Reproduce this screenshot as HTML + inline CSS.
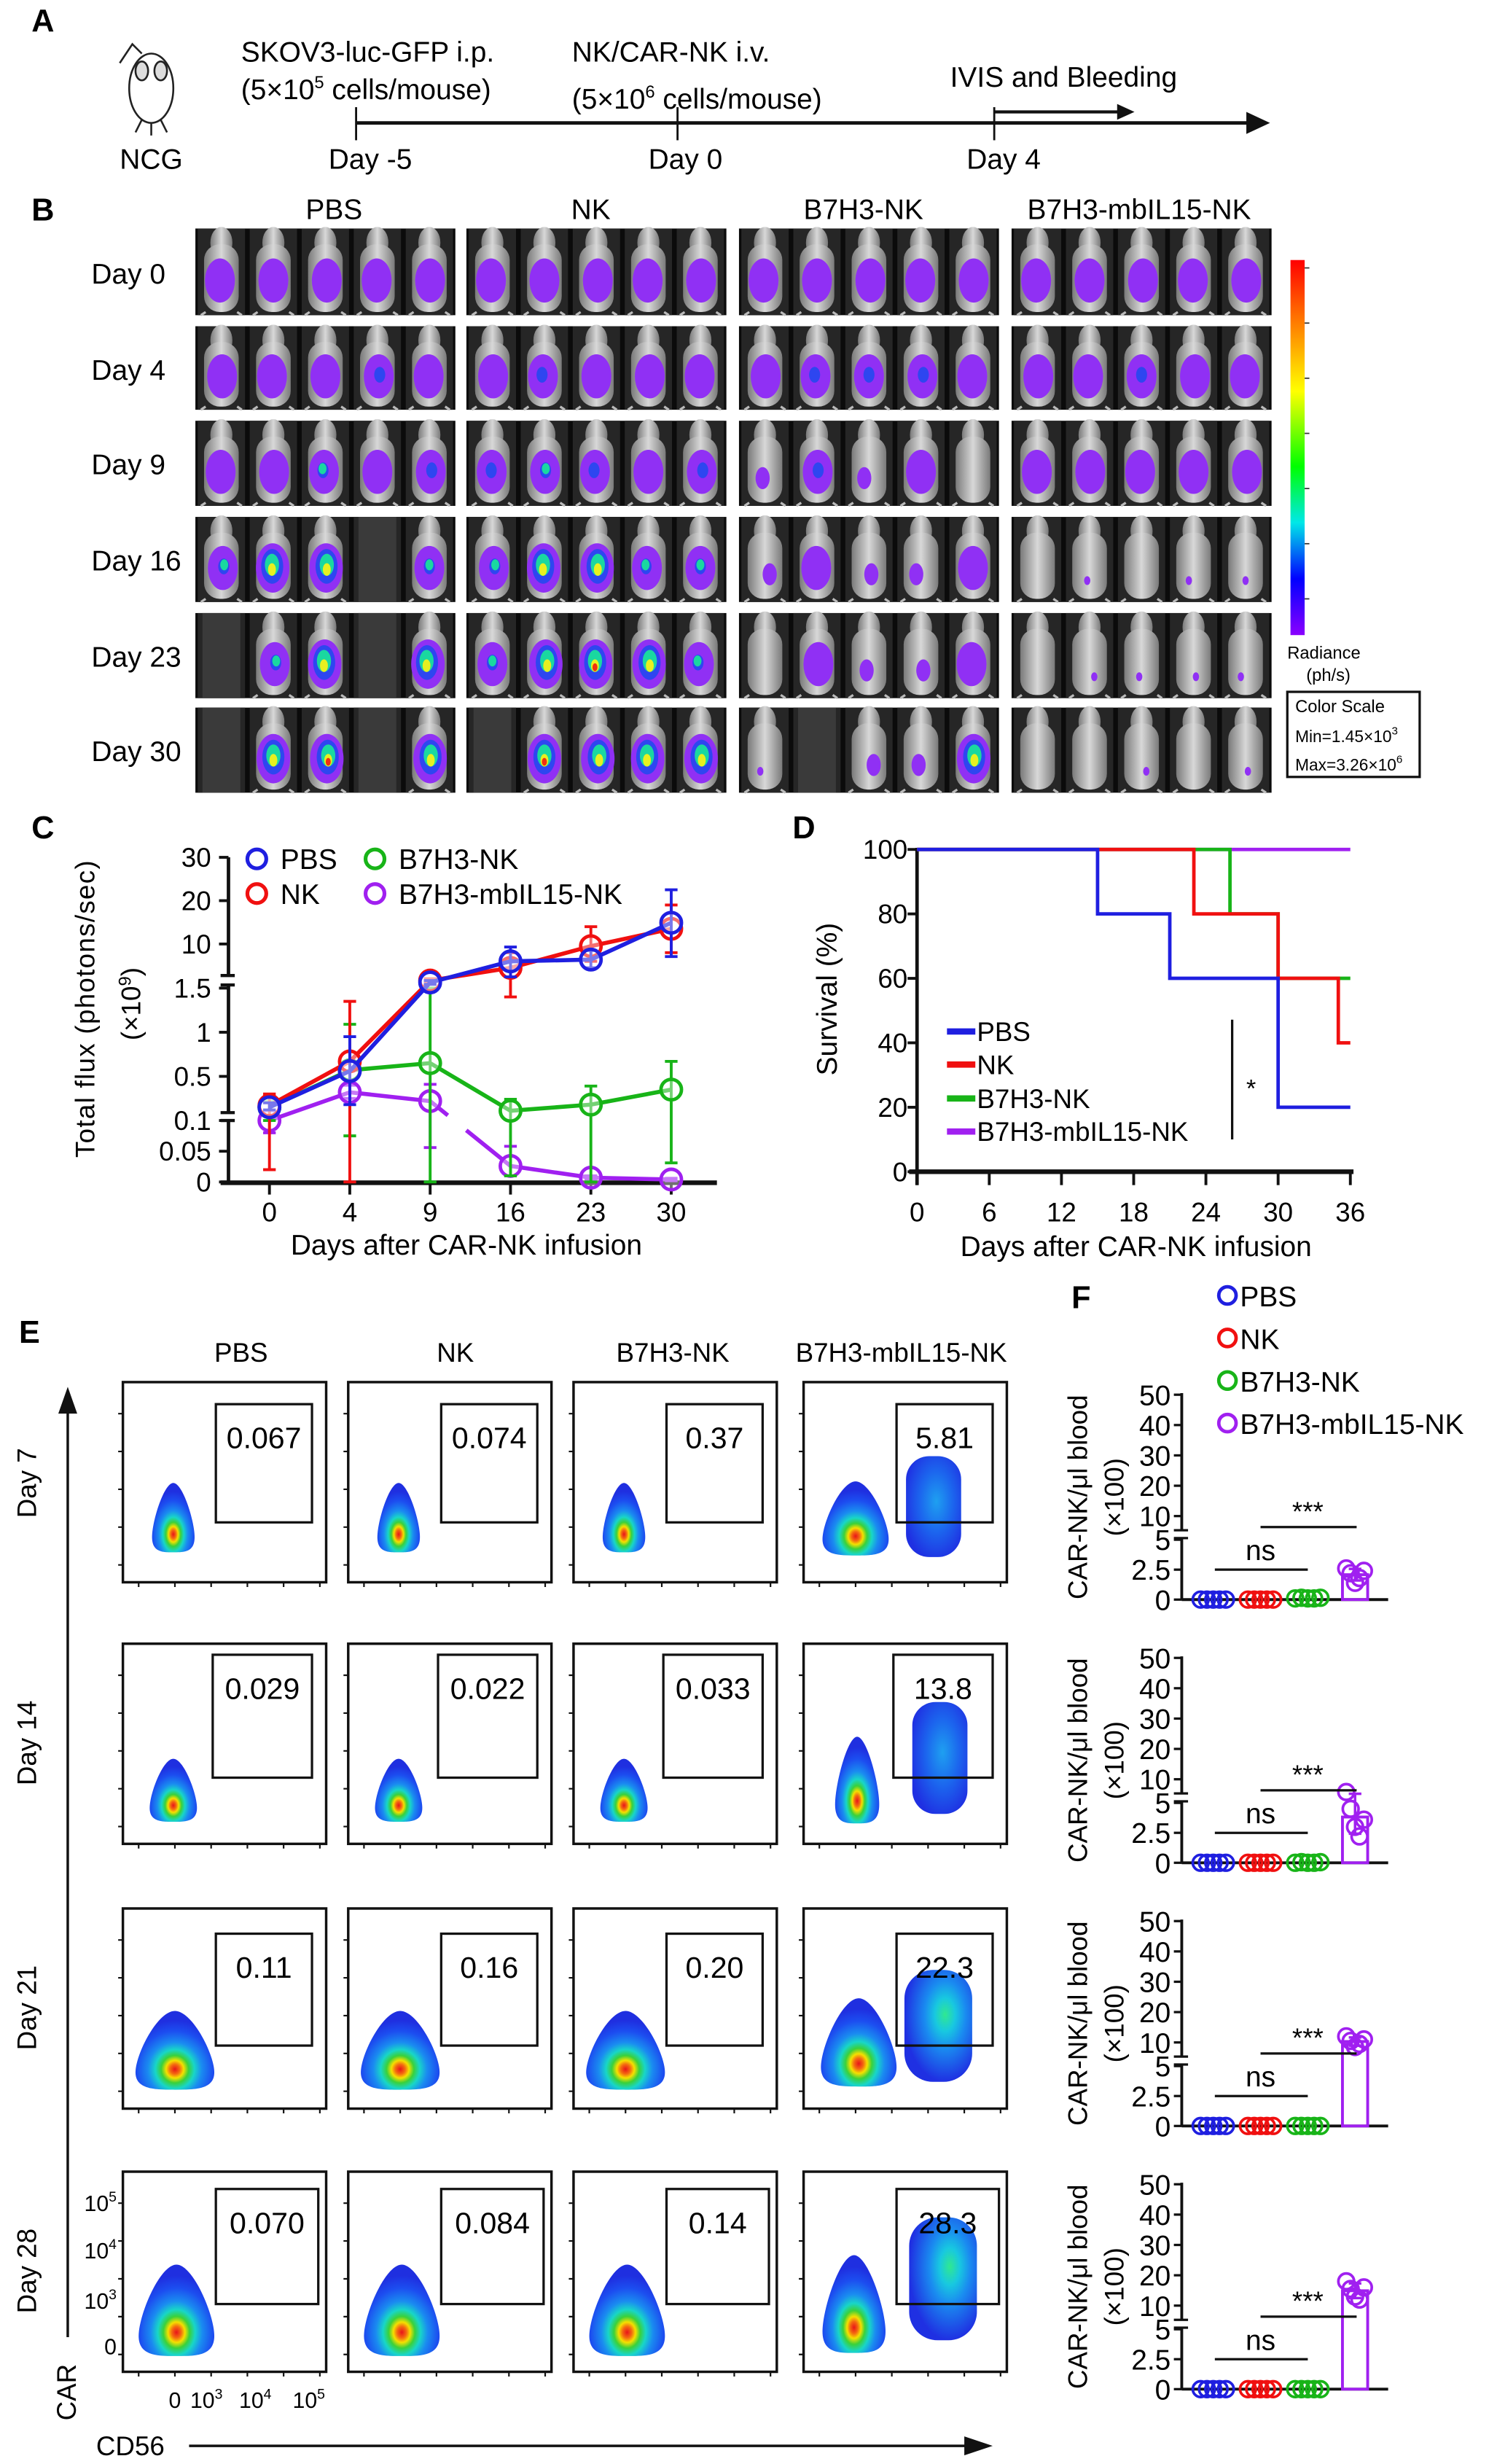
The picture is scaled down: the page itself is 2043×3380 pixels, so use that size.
<!DOCTYPE html>
<html><head><meta charset="utf-8">
<style>
html,body{margin:0;padding:0;background:#fff;}
svg{display:block;font-family:"Liberation Sans",Arial,sans-serif;}
</style></head>
<body>
<svg id="fig" xmlns="http://www.w3.org/2000/svg" width="2043" height="3380" viewBox="0 0 945 1563.5" preserveAspectRatio="none">
<defs>
<linearGradient id="cbar" x1="0" y1="0" x2="0" y2="1">
<stop offset="0" stop-color="#ff0000"/><stop offset="0.15" stop-color="#ff7000"/><stop offset="0.35" stop-color="#ffff00"/><stop offset="0.55" stop-color="#00ff00"/><stop offset="0.7" stop-color="#00e8e8"/><stop offset="0.85" stop-color="#0000ff"/><stop offset="1" stop-color="#8a00ff"/>
</linearGradient>
<radialGradient id="jet" cx="0.5" cy="0.74" r="0.62">
<stop offset="0" stop-color="#e8141a"/><stop offset="0.1" stop-color="#f46a10"/><stop offset="0.18" stop-color="#f5e000"/><stop offset="0.28" stop-color="#3ad13a"/><stop offset="0.4" stop-color="#18d6c8"/><stop offset="0.55" stop-color="#1a8cf0"/><stop offset="0.78" stop-color="#1c4ef0"/><stop offset="1" stop-color="#1f2fe0"/>
</radialGradient>
<radialGradient id="blueA" cx="0.55" cy="0.45" r="0.6">
<stop offset="0" stop-color="#1ea0f0"/><stop offset="0.5" stop-color="#1c66ee"/><stop offset="1" stop-color="#1f30e2"/>
</radialGradient>
<radialGradient id="blueB" cx="0.6" cy="0.4" r="0.6">
<stop offset="0" stop-color="#30e890"/><stop offset="0.25" stop-color="#18c8e0"/><stop offset="0.5" stop-color="#1a8cf0"/><stop offset="1" stop-color="#1f30e2"/>
</radialGradient>
<linearGradient id="mouseG" x1="0" y1="0" x2="1" y2="0">
<stop offset="0" stop-color="#7a7a7a"/><stop offset="0.5" stop-color="#d8d8d8"/><stop offset="1" stop-color="#7a7a7a"/>
</linearGradient>
</defs>

<!-- Panel A -->
<g>
<text x="20" y="20" font-size="20" font-weight="bold">A</text>
<g fill="none" stroke="#222" stroke-width="1.2">
<path d="M76 40 l8 -12 l6 6"/>
<ellipse cx="96" cy="56" rx="14" ry="22" fill="#fff"/>
<ellipse cx="90" cy="45" rx="4" ry="6" fill="#ddd"/><ellipse cx="102" cy="45" rx="4" ry="6" fill="#ddd"/>
<path d="M90 76 l-4 8 M102 76 l4 8 M96 78 v8"/>
</g>
<text x="96" y="107" font-size="18" text-anchor="middle">NCG</text>
<text x="153" y="39" font-size="18">SKOV3-luc-GFP i.p.</text>
<text x="153" y="63" font-size="18">(5×10<tspan font-size="11" dy="-7">5</tspan><tspan dy="7"> cells/mouse)</tspan></text>
<text x="363" y="39" font-size="18">NK/CAR-NK i.v.</text>
<text x="363" y="69" font-size="18">(5×10<tspan font-size="11" dy="-7">6</tspan><tspan dy="7"> cells/mouse)</tspan></text>
<text x="603" y="55" font-size="18">IVIS and Bleeding</text>
<line x1="226" y1="78" x2="795" y2="78" stroke="#111" stroke-width="2.2"/>
<path d="M791 71 L806 78 L791 85 Z" fill="#111"/>
<line x1="226" y1="68" x2="226" y2="89" stroke="#111" stroke-width="1.3"/>
<line x1="430" y1="68" x2="430" y2="89" stroke="#111" stroke-width="1.3"/>
<line x1="631" y1="68" x2="631" y2="89" stroke="#111" stroke-width="1.3"/>
<line x1="631" y1="71" x2="712" y2="71" stroke="#111" stroke-width="2"/>
<path d="M709 66 L720 71 L709 76 Z" fill="#111"/>
<text x="235" y="107" font-size="18" text-anchor="middle">Day -5</text>
<text x="435" y="107" font-size="18" text-anchor="middle">Day 0</text>
<text x="637" y="107" font-size="18" text-anchor="middle">Day 4</text>
</g>

<!-- Panel B static -->
<g font-size="18">
<text x="20" y="140" font-size="20" font-weight="bold">B</text>
<text x="212" y="139" text-anchor="middle">PBS</text>
<text x="375" y="139" text-anchor="middle">NK</text>
<text x="548" y="139" text-anchor="middle">B7H3-NK</text>
<text x="723" y="139" text-anchor="middle">B7H3-mbIL15-NK</text>
<text x="58" y="180">Day 0</text>
<text x="58" y="241">Day 4</text>
<text x="58" y="301">Day 9</text>
<text x="58" y="362">Day 16</text>
<text x="58" y="423">Day 23</text>
<text x="58" y="483">Day 30</text>
<rect x="819" y="165" width="9" height="238" fill="url(#cbar)"/>
<g stroke="#333" stroke-width="0.8">
<line x1="828" y1="170" x2="831" y2="170"/><line x1="828" y1="205" x2="831" y2="205"/><line x1="828" y1="240" x2="831" y2="240"/><line x1="828" y1="275" x2="831" y2="275"/><line x1="828" y1="310" x2="831" y2="310"/><line x1="828" y1="345" x2="831" y2="345"/><line x1="828" y1="380" x2="831" y2="380"/>
</g>
<text x="817" y="418" font-size="11">Radiance</text>
<text x="829" y="432" font-size="11">(ph/s)</text>
<rect x="817" y="439" width="84" height="54" fill="none" stroke="#111" stroke-width="1.5"/>
<text x="822" y="452" font-size="11">Color Scale</text>
<text x="822" y="471" font-size="10.5">Min=1.45×10<tspan font-size="7" dy="-5">3</tspan></text>
<text x="822" y="489" font-size="10.5">Max=3.26×10<tspan font-size="7" dy="-5">6</tspan></text>
<g id="bImages"></g>
</g>

<!-- Panel C static -->
<g>
<text x="20" y="532" font-size="20" font-weight="bold">C</text>
<text transform="translate(60 640) rotate(-90)" font-size="17" text-anchor="middle" letter-spacing="0.6">Total flux (photons/sec)</text>
<text transform="translate(89 637) rotate(-90)" font-size="17" text-anchor="middle">(×10<tspan font-size="11" dy="-6">9</tspan><tspan dy="6">)</tspan></text>
<text x="296" y="796" font-size="18" text-anchor="middle">Days after CAR-NK infusion</text>
<g id="cChart"></g>
</g>

<!-- Panel D static -->
<g>
<text x="503" y="532" font-size="20" font-weight="bold">D</text>
<text transform="translate(531 634) rotate(-90)" font-size="18" text-anchor="middle">Survival (%)</text>
<text x="721" y="797" font-size="18" text-anchor="middle">Days after CAR-NK infusion</text>
<g id="dChart"></g>
</g>

<!-- Panel E static -->
<g>
<text x="12" y="852" font-size="20" font-weight="bold">E</text>
<text x="153" y="864" font-size="17" text-anchor="middle">PBS</text>
<text x="289" y="864" font-size="17" text-anchor="middle">NK</text>
<text x="427" y="864" font-size="17" text-anchor="middle">B7H3-NK</text>
<text x="572" y="864" font-size="17" text-anchor="middle">B7H3-mbIL15-NK</text>
<text transform="translate(23 941) rotate(-90)" font-size="17" text-anchor="middle">Day 7</text>
<text transform="translate(23 1106) rotate(-90)" font-size="17" text-anchor="middle">Day 14</text>
<text transform="translate(23 1274) rotate(-90)" font-size="17" text-anchor="middle">Day 21</text>
<text transform="translate(23 1441) rotate(-90)" font-size="17" text-anchor="middle">Day  28</text>
<line x1="43" y1="1483" x2="43" y2="895" stroke="#111" stroke-width="1.6"/>
<path d="M37 897 L43 880 L49 897 Z" fill="#111"/>
<text transform="translate(48 1518) rotate(-90)" font-size="17" text-anchor="middle">CAR</text>
<text x="61" y="1558" font-size="17">CD56</text>
<line x1="120" y1="1552" x2="615" y2="1552" stroke="#111" stroke-width="1.6"/>
<path d="M612 1546 L630 1552 L612 1558 Z" fill="#111"/>
<g font-size="14" text-anchor="end">
<text x="74" y="1403">10<tspan font-size="9" dy="-6">5</tspan></text>
<text x="74" y="1433">10<tspan font-size="9" dy="-6">4</tspan></text>
<text x="74" y="1465">10<tspan font-size="9" dy="-6">3</tspan></text>
<text x="74" y="1494">0</text>
</g>
<g font-size="14" text-anchor="middle">
<text x="111" y="1528">0</text>
<text x="131" y="1528">10<tspan font-size="9" dy="-6">3</tspan></text>
<text x="162" y="1528">10<tspan font-size="9" dy="-6">4</tspan></text>
<text x="196" y="1528">10<tspan font-size="9" dy="-6">5</tspan></text>
</g>
<g id="eFlow"></g>
</g>

<!-- Panel F static -->
<g>
<text x="680" y="830" font-size="20" font-weight="bold">F</text>
<g font-size="18">
<circle cx="779" cy="822" r="5.5" fill="none" stroke="#1f1fe0" stroke-width="2.2"/><text x="787" y="829">PBS</text>
<circle cx="779" cy="849" r="5.5" fill="none" stroke="#f01010" stroke-width="2.2"/><text x="787" y="856">NK</text>
<circle cx="779" cy="876" r="5.5" fill="none" stroke="#18b418" stroke-width="2.2"/><text x="787" y="883">B7H3-NK</text>
<circle cx="779" cy="903" r="5.5" fill="none" stroke="#a020f0" stroke-width="2.2"/><text x="787" y="910">B7H3-mbIL15-NK</text>
</g>
<g id="fCharts"></g>
</g>
</svg>

<script>
const NS = 'http://www.w3.org/2000/svg';
function mk(tag, attrs, parent) {
  const e = document.createElementNS(NS, tag);
  for (const k in attrs) e.setAttribute(k, attrs[k]);
  parent.appendChild(e);
  return e;
}

/* ================= Panel B: IVIS images ================= */
const bGroupNames = ['pbs', 'nk', 'b7h3-nk', 'b7h3-mbil15-nk'];
const bDays = ['0', '4', '9', '16', '23', '30'];
const bLevelsPBS = [[1,1,1,1,1],[1,1,1,1.5,1],[1,1,2,1,1.5],[2,3,3,-1,2],[-1,2.5,3,-1,3],[-1,3,4,-1,3]];
const bLevelsNK = [[1,1,1,1,1],[1,1.5,1,1,1],[1.5,2.5,1.5,1,1.5],[2.5,3,3,2,2],[2,3,4,3,2],[-1,4,3,3,3]];
const bLevelsB7 = [[1,1,1,1,1],[1,1.5,1.5,1.5,1],[0.6,1.5,0.5,1,0],[0.5,1,0.5,0.5,1],[0,1,0.5,0.5,1],[0.3,-1,0.5,0.5,3]];
const bLevelsMB = [[1,1,1,1,1],[1,1,1.5,1,1],[1,1,1,1,1],[0,0.3,0,0.3,0.3],[0,0.3,0.3,0.3,0.3],[0,0,0.3,0,0.3]];
const bGroupLevels = [bLevelsPBS, bLevelsNK, bLevelsB7, bLevelsMB];

const bRoot = document.getElementById('bImages');
const bColX = [124, 296, 469, 642];
const bRowY = [145, 207, 267, 328, 389, 449];
const bRowH = [55, 53, 54, 54, 54, 54];
const bW = 165;
for (let g = 0; g < 4; g++) {
  for (let r = 0; r < 6; r++) {
    const x0 = bColX[g], y0 = bRowY[r], h = bRowH[r];
    const grp = mk('g', {}, bRoot);
    
    
    mk('rect', {x: x0, y: y0, width: bW, height: h, fill: '#0b0b0b'}, grp);
    const lv = bGroupLevels[g][r];
    for (let j = 0; j < 5; j++) {
      const cx = x0 + 16.5 + j * 33;
      const L = lv[j];
      mk('rect', {x: cx - 15, y: y0, width: 30, height: h, fill: '#262626'}, grp);
      if (L < 0) { mk('rect', {x: cx - 12, y: y0, width: 24, height: h, fill: '#3a3a3a'}, grp); continue; }
      mk('ellipse', {cx: cx, cy: y0 + 9, rx: 7, ry: 10, fill: 'url(#mouseG)'}, grp);
      mk('rect', {x: cx - 11, y: y0 + 10, width: 22, height: h - 12, rx: 10, fill: 'url(#mouseG)'}, grp);
      mk('path', {d: `M${cx-10} ${y0+h-2} l-3 2 M${cx+10} ${y0+h-2} l3 2`, stroke: '#bbb', 'stroke-width': 1.5}, grp);
      const cy = y0 + h * 0.6;
      const off = ((j * 7 + r * 3) % 5 - 2) * 1.5;
      if (L >= 0.9) {
        const big = L >= 3 ? 1.12 : 1;
        mk('ellipse', {cx: cx + off * 0.3, cy: cy, rx: 9.5 * big, ry: 14 * big, fill: '#9030f4'}, grp);
        if (L >= 1.5) mk('ellipse', {cx: cx + off * 0.5, cy: cy - 1, rx: L >= 3 ? 7 : 3.5, ry: L >= 3 ? 11 : 5, fill: '#2e46f0'}, grp);
        if (L >= 2) mk('ellipse', {cx: cx + off * 0.6, cy: cy - 2, rx: L >= 3 ? 4.5 : 2.5, ry: L >= 3 ? 7 : 3.5, fill: '#1ad8a0'}, grp);
        if (L >= 3) mk('ellipse', {cx: cx + off * 0.6, cy: cy + 1, rx: 2.5, ry: 4, fill: '#e8f020'}, grp);
        if (L >= 4) mk('ellipse', {cx: cx + off * 0.6, cy: cy + 2, rx: 1.6, ry: 2.5, fill: '#f03010'}, grp);
      } else if (L >= 0.45) {
        mk('ellipse', {cx: cx + off, cy: cy + 4, rx: 4.5, ry: 7, fill: '#9030f4'}, grp);
      } else if (L >= 0.2) {
        mk('ellipse', {cx: cx + off, cy: cy + 8, rx: 2, ry: 2.8, fill: '#9030f4'}, grp);
      }
    }
  }
}

/* ================= Panel C: total flux ================= */
const cDays = ['0', '4', '9', '16', '23', '30'];
const cTickVals = [0, 0.05, 0.1, 0.5, 1, 1.5, 10, 20, 30];
const cTickLabels = ['0', '0.05', '0.1', '0.5', '1', '1.5', '10', '20', '30'];
const cPBS = [0.15, 0.56, 1.8, 6.0, 6.4, 14.9];
const cPBShi = [0.2, 0.95, 1.9, 9.3, 8.5, 22.5];
const cPBSlo = [0.12, 0.18, 1.7, 2.4, 4.5, 7.1];
const cNK = [0.17, 0.67, 1.9, 4.5, 9.5, 13.5];
const cNKhi = [0.3, 1.35, 2.0, 8.0, 14.0, 19.0];
const cNKlo = [0.02, 0, 1.8, 1.4, 6.0, 8.0];
const cB7 = [0.15, 0.57, 0.65, 0.11, 0.18, 0.35];
const cB7hi = [0.22, 1.09, 1.5, 0.24, 0.39, 0.67];
const cB7lo = [0.1, 0.075, 0, 0.01, 0, 0.031];
const cMB = [0.1, 0.32, 0.22, 0.026, 0.007, 0.004];
const cMBhi = [0.12, 0.4, 0.41, 0.058, 0.01, 0.006];
const cMBlo = [0.08, 0.25, 0.056, 0.01, 0.003, 0.002];

function xC(i) { return 171 + i * 51; }
function yC(v) {
  if (v <= 0.1) return 750 - v / 0.1 * 39;
  if (v <= 1.5) return 683 - (v - 0.5) * 56;
  if (v <= 2) return 627 - (v - 1.5) / 0.5 * 6;
  return 599 - (v - 10) * 2.75;
}
const cRoot = document.getElementById('cChart');
(function () {
  const ax = mk('g', {stroke: '#111', 'stroke-width': 2.2}, cRoot);
  
  
  mk('line', {x1: 145, y1: 544, x2: 145, y2: 751}, ax);
  mk('line', {x1: 140, y1: 750.5, x2: 455, y2: 750.5, 'stroke-width': 3}, ax);
  mk('rect', {x: 141, y: 619, width: 8, height: 6, fill: '#fff', stroke: 'none'}, cRoot);
  mk('rect', {x: 141, y: 706, width: 8, height: 5, fill: '#fff', stroke: 'none'}, cRoot);
  mk('path', {d: 'M140 619 h9 M140 625 h9 M140 706 h9 M140 711 h9', stroke: '#111', 'stroke-width': 2}, cRoot);
  const yl = mk('g', {'font-size': 17, 'text-anchor': 'end'}, cRoot);
  
  
  for (let i = 0; i < cTickVals.length; i++) {
    const y = yC(cTickVals[i]);
    mk('line', {x1: 139, y1: y, x2: 145, y2: y, stroke: '#111', 'stroke-width': 1.8}, cRoot);
    const t = mk('text', {x: 134, y: y + 6}, yl);
    t.textContent = cTickLabels[i];
  }
  const xl = mk('g', {'font-size': 17, 'text-anchor': 'middle'}, cRoot);
  
  
  for (let i = 0; i < cDays.length; i++) {
    mk('line', {x1: xC(i), y1: 751, x2: xC(i), y2: 758, stroke: '#111', 'stroke-width': 1.8}, cRoot);
    const t = mk('text', {x: xC(i), y: 775}, xl);
    t.textContent = cDays[i];
  }
  const series = [
    ['b7h3-mbil15-nk', cMB, cMBhi, cMBlo, '#a020f0'],
    ['b7h3-nk', cB7, cB7hi, cB7lo, '#18b418'],
    ['nk', cNK, cNKhi, cNKlo, '#f01010'],
    ['pbs', cPBS, cPBShi, cPBSlo, '#1f1fe0']
  ];
  series.forEach(s => {
    const g = mk('g', {}, cRoot);
    
    
    for (let i = 0; i < s[1].length; i++) {
      const x = xC(i), yh = yC(s[2][i]), yl2 = yC(s[3][i]);
      const eb = mk('path', {d: `M${x} ${yh} V${yl2} M${x-4} ${yh} h8 M${x-4} ${yl2} h8`, stroke: s[4], 'stroke-width': 1.8, fill: 'none'}, g);
      
      
    }
    const pts = s[1].map((v, i) => xC(i) + ',' + yC(v)).join(' ');
    const pl = mk('polyline', {points: pts, fill: 'none', stroke: s[4], 'stroke-width': 2.6}, g);
    
    
    if (s[0] === 'b7h3-mbil15-nk') {
      const x1 = xC(2), y1 = yC(s[1][2]), x2 = xC(3), y2 = yC(s[1][3]);
      mk('line', {x1: x1 + (x2 - x1) * 0.22, y1: y1 + (y2 - y1) * 0.22, x2: x1 + (x2 - x1) * 0.45, y2: y1 + (y2 - y1) * 0.45, stroke: '#fff', 'stroke-width': 5}, g);
    }
    for (let i = 0; i < s[1].length; i++) {
      const c = mk('circle', {cx: xC(i), cy: yC(s[1][i]), r: 6.5, fill: '#fff', 'fill-opacity': 0.4, stroke: s[4], 'stroke-width': 2.2}, g);
      
      
    }
  });
  const lg = mk('g', {'font-size': 18}, cRoot);
  
  
  const leg = [[163, 545, '#1f1fe0', 'PBS'], [163, 567, '#f01010', 'NK'], [238, 545, '#18b418', 'B7H3-NK'], [238, 567, '#a020f0', 'B7H3-mbIL15-NK']];
  leg.forEach(l => {
    mk('circle', {cx: l[0], cy: l[1], r: 6, fill: 'none', stroke: l[2], 'stroke-width': 2.4}, lg);
    const t = mk('text', {x: l[0] + 15, y: l[1] + 6.5}, lg);
    t.textContent = l[3];
  });
})();

/* ================= Panel D: survival ================= */
const dTicksX = [0, 6, 12, 18, 24, 30, 36];
const dTicksY = [0, 20, 40, 60, 80, 100];
const dPBSt = [0, 15, 21, 30, 36];
const dPBSs = [100, 80, 60, 20, 20];
const dNKt = [0, 23, 30, 35, 36];
const dNKs = [100, 80, 60, 40, 40];
const dB7t = [0, 26, 30, 36];
const dB7s = [100, 80, 60, 60];
const dMBt = [0, 36];
const dMBs = [100, 100];
function xD(d) { return 582 + d * (275 / 36); }
function yD(p) { return 743.5 - p * 2.045; }
const dRoot = document.getElementById('dChart');
(function () {
  const ax = mk('g', {stroke: '#111'}, dRoot);
  
  
  mk('line', {x1: 582, y1: 538, x2: 582, y2: 752, 'stroke-width': 2.2}, ax);
  mk('line', {x1: 577, y1: 743.5, x2: 859, y2: 743.5, 'stroke-width': 3}, ax);
  const yl = mk('g', {'font-size': 17, 'text-anchor': 'end'}, dRoot);
  
  
  dTicksY.forEach(v => {
    mk('line', {x1: 576, y1: yD(v), x2: 582, y2: yD(v), stroke: '#111', 'stroke-width': 1.8}, dRoot);
    const t = mk('text', {x: 576, y: yD(v) + 6}, yl);
    t.textContent = v;
  });
  const xl = mk('g', {'font-size': 17, 'text-anchor': 'middle'}, dRoot);
  
  
  dTicksX.forEach(v => {
    mk('line', {x1: xD(v), y1: 743, x2: xD(v), y2: 752, stroke: '#111', 'stroke-width': 1.8}, dRoot);
    const t = mk('text', {x: xD(v), y: 775}, xl);
    t.textContent = v;
  });
  const series = [['b7h3-mbil15-nk', dMBt, dMBs, '#a020f0'], ['b7h3-nk', dB7t, dB7s, '#18b418'], ['nk', dNKt, dNKs, '#f01010'], ['pbs', dPBSt, dPBSs, '#1f1fe0']];
  series.forEach(s => {
    let d = `M${xD(s[1][0])} ${yD(s[2][0])}`;
    for (let i = 1; i < s[1].length; i++) {
      d += ` H${xD(s[1][i])} V${yD(s[2][i])}`;
    }
    const p = mk('path', {d: d, fill: 'none', stroke: s[3], 'stroke-width': 2.2}, dRoot);
    
    
  });
  const lg = mk('g', {'font-size': 17}, dRoot);
  
  
  const leg = [[654.5, '#1f1fe0', 'PBS'], [675.5, '#f01010', 'NK'], [697, '#18b418', 'B7H3-NK'], [718, '#a020f0', 'B7H3-mbIL15-NK']];
  leg.forEach(l => {
    mk('line', {x1: 601, y1: l[0], x2: 619, y2: l[0], stroke: l[1], 'stroke-width': 4}, lg);
    const t = mk('text', {x: 620, y: l[0] + 6}, lg);
    t.textContent = l[2];
  });
  const sig = mk('line', {x1: 782, y1: 647, x2: 782, y2: 723, stroke: '#111', 'stroke-width': 1.5}, dRoot);
  
  
  const st = mk('text', {x: 794, y: 696, 'font-size': 16, 'text-anchor': 'middle'}, dRoot);
  
  
  st.textContent = '*';
})();

/* ================= Panel E: flow plots ================= */
const eGroupNames = ['pbs', 'nk', 'b7h3-nk', 'b7h3-mbil15-nk'];
const eDays = ['7', '14', '21', '28'];
const eValues = [['0.067', '0.074', '0.37', '5.81'], ['0.029', '0.022', '0.033', '13.8'], ['0.11', '0.16', '0.20', '22.3'], ['0.070', '0.084', '0.14', '28.3']];
const eColX = [78, 221, 364, 510];
const eRowY = [877, 1043, 1211, 1378];
const eW = 129, eH = 127;
const eGate = [[59, 14, 61, 75], [57, 7, 63, 78], [59, 16, 61, 71], [59, 11, 65, 73]];
const eBlob = [[32, 19, 27, 44], [32, 14, 30, 40], [33, 12, 50, 50], [34, 10, 48, 58]];
const eBlobMB = [[33, 17, 42, 47], [34, 13, 28, 55], [35, 14, 48, 56], [32, 12, 40, 62]];
const eCarMB = [[82.5, 47, 35, 64], [86.5, 37, 35, 71], [85.5, 39, 43, 71], [88.5, 29, 43, 78]];
function tear(cx, by, w, h) {
  const t = by - h;
  return `M${cx} ${t} C${cx+w*0.22} ${t} ${cx+w*0.5} ${by-h*0.45} ${cx+w*0.5} ${by-h*0.22} C${cx+w*0.5} ${by} ${cx+w*0.25} ${by} ${cx} ${by} C${cx-w*0.25} ${by} ${cx-w*0.5} ${by} ${cx-w*0.5} ${by-h*0.22} C${cx-w*0.5} ${by-h*0.45} ${cx-w*0.22} ${t} ${cx} ${t} Z`;
}
const eRoot = document.getElementById('eFlow');
for (let r = 0; r < 4; r++) {
  for (let g = 0; g < 4; g++) {
    const x0 = eColX[g], y0 = eRowY[r];
    const grp = mk('g', {}, eRoot);
    
    
    mk('rect', {x: x0, y: y0, width: eW, height: eH, fill: '#fff', stroke: '#111', 'stroke-width': 1.6}, grp);
    let td = '';
    for (let k = 0; k < 5; k++) { const yy = y0 + 20 + k * 24; td += `M${x0-3} ${yy} h3 `; }
    for (let k = 0; k < 6; k++) { const xx = x0 + 10 + k * 23; td += `M${xx} ${y0+eH} v3 `; }
    mk('path', {d: td, stroke: '#111', 'stroke-width': 1}, grp);
    const b = g === 3 ? eBlobMB[r] : eBlob[r];
    mk('path', {d: tear(x0 + b[0], y0 + eH - b[1], b[2], b[3]), fill: 'url(#jet)'}, grp);
    if (g === 3) {
      const c = eCarMB[r];
      mk('rect', {x: x0 + c[0] - c[2] / 2, y: y0 + c[1], width: c[2], height: c[3], rx: c[2] * 0.42, fill: r >= 2 ? 'url(#blueB)' : 'url(#blueA)'}, grp);
    }
    const gt = eGate[r];
    const gate = mk('rect', {x: x0 + gt[0], y: y0 + gt[1], width: gt[2], height: gt[3], fill: 'none', stroke: '#111', 'stroke-width': 1.5}, grp);
    
    
    const t = mk('text', {x: x0 + gt[0] + gt[2] / 2, y: y0 + gt[1] + 28, 'font-size': 19, 'text-anchor': 'middle'}, grp);
    
    
    t.textContent = eValues[r][g];
  }
}

/* ================= Panel F: CAR-NK counts ================= */
const fGroups = ['pbs', 'nk', 'b7h3-nk', 'b7h3-mbil15-nk'];
const fTickVals = [0, 2.5, 5, 10, 20, 30, 40, 50];
const fTickLabels = ['0', '2.5', '5', '10', '20', '30', '40', '50'];
const fDay7 = [[0, 0, 0, 0, 0], [0, 0, 0, 0, 0], [0.1, 0.15, 0.1, 0.1, 0.15], [2.6, 2.2, 1.4, 1.8, 2.4]];
const fDay14 = [[0, 0, 0, 0, 0], [0, 0, 0, 0, 0], [0, 0.05, 0, 0, 0.05], [5.8, 4.5, 3.0, 2.2, 3.6]];
const fDay21 = [[0, 0, 0, 0, 0], [0, 0, 0, 0, 0], [0, 0, 0, 0, 0], [12, 10.5, 8.5, 9.5, 11]];
const fDay28 = [[0, 0, 0, 0, 0], [0, 0, 0, 0, 0], [0, 0, 0, 0, 0], [18, 15.5, 13, 12, 16]];
const fDayData = [fDay7, fDay14, fDay21, fDay28];
const fColors = ['#1f1fe0', '#f01010', '#18b418', '#a020f0'];
function xF(i) { return 770 + i * 30; }
function yF(v, z) { return v <= 5 ? z - v * 7.6 : z - 53 - (v - 10) * 1.925; }
const fRoot = document.getElementById('fCharts');
for (let c = 0; c < 4; c++) {
  const z = 1015 + c * 167;
  const grp = mk('g', {}, fRoot);
  
  
  mk('line', {x1: 750, y1: yF(50, z) - 1, x2: 750, y2: z, stroke: '#111', 'stroke-width': 1.8}, grp);
  mk('line', {x1: 750, y1: z, x2: 881, y2: z, stroke: '#111', 'stroke-width': 1.8}, grp);
  mk('rect', {x: 745, y: z - 44, width: 9, height: 5, fill: '#fff'}, grp);
  mk('path', {d: `M745 ${z-44} h9 M745 ${z-39} h9`, stroke: '#111', 'stroke-width': 1.5}, grp);
  const tl = mk('g', {'font-size': 18, 'text-anchor': 'end'}, grp);
  
  
  fTickVals.forEach((v, i) => {
    const y = yF(v, z);
    mk('line', {x1: 745, y1: y, x2: 750, y2: y, stroke: '#111', 'stroke-width': 1.5}, grp);
    const t = mk('text', {x: 743, y: y + 6.5}, tl);
    t.textContent = fTickLabels[i];
  });
  const yt = mk('text', {transform: `translate(690 ${z-65}) rotate(-90)`, 'font-size': 17, 'text-anchor': 'middle'}, grp);
  
  
  yt.textContent = 'CAR-NK/μl blood';
  const yu = mk('text', {transform: `translate(713 ${z-65}) rotate(-90)`, 'font-size': 17, 'text-anchor': 'middle'}, grp);
  
  
  yu.textContent = '(×100)';
  const data = fDayData[c];
  for (let gI = 0; gI < 4; gI++) {
    const vals = data[gI];
    const mean = vals.reduce((a, b) => a + b, 0) / vals.length;
    const sd = Math.sqrt(vals.reduce((a, b) => a + (b - mean) * (b - mean), 0) / (vals.length - 1));
    const x = xF(gI);
    if (mean > 0.5) {
      const bar = mk('rect', {x: x - 8, y: yF(mean, z), width: 16, height: z - yF(mean, z), fill: 'none', stroke: fColors[gI], 'stroke-width': 1.8}, grp);
      
      
      mk('path', {d: `M${x} ${yF(mean+sd, z)} V${yF(Math.max(mean-sd,0), z)} M${x-4} ${yF(mean+sd, z)} h8 M${x-4} ${yF(Math.max(mean-sd,0), z)} h8`, stroke: fColors[gI], 'stroke-width': 1.6, fill: 'none'}, grp);
    }
    const jit = [-8, -4, 0, 4, 8];
    vals.forEach((v, k) => {
      const p = mk('circle', {cx: x + jit[k] * (mean > 0.5 ? 0.7 : 1), cy: yF(v, z), r: 5, fill: 'none', stroke: fColors[gI], 'stroke-width': 1.7}, grp);
      
      
    });
  }
  mk('line', {x1: 771, y1: z - 19, x2: 830, y2: z - 19, stroke: '#111', 'stroke-width': 1.5}, grp);
  const ns = mk('text', {x: 800, y: z - 25, 'font-size': 18, 'text-anchor': 'middle'}, grp);
  
  
  ns.textContent = 'ns';
  mk('line', {x1: 800, y1: z - 46, x2: 861, y2: z - 46, stroke: '#111', 'stroke-width': 1.5}, grp);
  const st = mk('text', {x: 830, y: z - 50, 'font-size': 17, 'text-anchor': 'middle'}, grp);
  
  
  st.textContent = '***';
}
</script>
</body></html>
